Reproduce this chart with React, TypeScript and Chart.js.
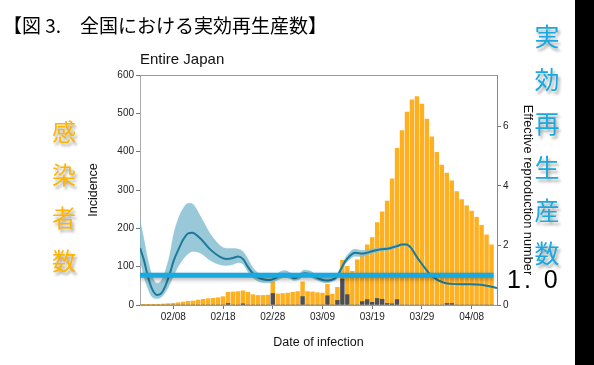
import React, { useEffect, useRef } from 'react';
import { Chart, registerables } from 'chart.js';

Chart.register(...registerables);

// Days counted from 2020-02-01 (day 0)
const totalCases = [0, 0.5, 0.5, 1, 1.7, 2.6, 3.5, 4.3, 6, 7.8, 9.6, 10.4, 13, 14.8, 16.5, 17.4, 19, 21.7, 33, 34, 35, 37, 33, 27, 25, 25, 26, 60, 29, 30, 31, 33, 35, 60, 35, 34, 32, 31, 54, 28, 46, 117, 101, 88, 118, 137, 157, 176, 215, 243, 271, 329, 409, 455, 503, 535, 544, 524, 485, 439, 398, 365, 344, 324, 296, 275, 259, 245, 229, 208, 183, 157];
const importedCases = [
  0, 0, 0, 0, 0, 0, 0, 0, 0, 0,
  0, 0, 0, 0, 0, 0, 0, 0, 4, 0,
  0, 3, 0, 0, 0, 0, 0, 30, 0, 0,
  0, 0, 0, 22, 0, 0, 0, 0, 24, 0,
  12, 68, 27, 0, 0, 9, 14, 7, 17, 15,
  4, 3, 14, 0, 0, 0, 0, 0, 0, 0,
  0, 0, 4, 4, 0, 0, 0, 0, 0, 0,
  0, 0,
];

const tickDays = [7, 17, 27, 37, 47, 57, 67];
const tickLabels = ['02/08', '02/18', '02/28', '03/09', '03/19', '03/29', '04/08'];

const rDays = [0.3, 1.1, 1.9, 2.7, 3.7, 4.5, 5.3, 6.3, 7.1, 8, 9, 10, 10.8, 12.4, 14.4, 16.4, 17.7, 19, 20, 21, 22, 23, 24, 25.2, 26.5, 27.5, 28.5, 29.5, 30.5, 31.3, 32.3, 33.3, 34.4, 35.5, 36.5, 37.7, 38.7, 39.9, 40.7, 41.5, 42.5, 43.5, 44.6, 45.8, 46.8, 47.8, 48.8, 50, 51, 52, 53, 53.9, 54.8, 55.8, 56.8, 57.8, 58.8, 59.8, 60.8, 61.8, 62.8, 64.8, 66.8, 68.9, 70.3, 72.1];
const rMean = [1.92, 1.5, 0.95, 0.55, 0.34, 0.38, 0.6, 1.06, 1.5, 1.85, 2.2, 2.41, 2.43, 2.24, 1.87, 1.62, 1.55, 1.58, 1.63, 1.55, 1.28, 1.06, 0.93, 0.86, 0.84, 0.9, 1.0, 1.03, 0.97, 0.9, 0.95, 1.07, 1.04, 0.95, 0.87, 0.82, 0.84, 0.95, 1.2, 1.45, 1.65, 1.76, 1.73, 1.75, 1.8, 1.84, 1.87, 1.89, 1.93, 1.98, 2.03, 2.03, 1.92, 1.66, 1.42, 1.2, 1.0, 0.88, 0.79, 0.73, 0.71, 0.7, 0.7, 0.68, 0.64, 0.57];
const rUpper = [2.86, 2.2, 1.5, 1.0, 0.73, 0.8, 1.1, 1.7, 2.4, 2.9, 3.25, 3.42, 3.4, 3.0, 2.4, 2.0, 1.9, 1.9, 1.88, 1.8, 1.55, 1.25, 1.08, 0.98, 0.95, 1.0, 1.12, 1.16, 1.08, 1.0, 1.05, 1.18, 1.15, 1.05, 0.96, 0.9, 0.9, 1.0, 1.28, 1.55, 1.77, 1.88, 1.84, 1.84, 1.88, 1.91, 1.93, 1.95, 1.98, 2.03, 2.07, 2.06, 1.95, 1.69, 1.44, 1.22, 1.02, 0.9, 0.8, 0.74, 0.72, 0.71, 0.71, 0.69, 0.65, 0.58];
const rLower = [1.5, 0.95, 0.55, 0.28, 0.22, 0.25, 0.4, 0.7, 1.0, 1.3, 1.55, 1.72, 1.8, 1.75, 1.5, 1.35, 1.33, 1.36, 1.42, 1.38, 1.12, 0.92, 0.8, 0.75, 0.75, 0.8, 0.88, 0.93, 0.88, 0.82, 0.86, 0.97, 0.95, 0.86, 0.79, 0.74, 0.77, 0.88, 1.12, 1.36, 1.54, 1.64, 1.63, 1.66, 1.72, 1.77, 1.81, 1.83, 1.88, 1.93, 1.99, 2.0, 1.89, 1.63, 1.4, 1.18, 0.98, 0.86, 0.78, 0.72, 0.7, 0.69, 0.69, 0.67, 0.63, 0.56];

const thresholdDays = [0.3, 71.4];
const thresholdValue = 1.0;

const FONT = "'Liberation Sans', Arial, sans-serif";
const CJK = "'Noto Sans CJK JP', 'Noto Sans CJK SC', sans-serif";

const leftChars = ['感', '染', '者', '数'];
const leftCharY = [131, 174, 217, 260];
const rightChars = ['実', '効', '再', '生', '産', '数'];
const rightCharY = [35, 78, 122, 166, 209, 252];

const framePlugin = {
  id: 'frameTop',
  afterDatasetsDraw(chart: any) {
    const { ctx, chartArea } = chart;
    ctx.save();
    ctx.strokeStyle = '#999';
    ctx.lineWidth = 1;
    ctx.beginPath();
    ctx.moveTo(chartArea.left, chartArea.top + 0.5);
    ctx.lineTo(chartArea.right, chartArea.top + 0.5);
    ctx.stroke();
    ctx.restore();
  },
};

const shadowPlugin = {
  id: 'lineShadow',
  beforeDatasetDraw(chart: any, args: any) {
    if (args.index === 0) {
      const ctx = chart.ctx;
      ctx.save();
      ctx.shadowColor = 'rgba(0,0,0,0.3)';
      ctx.shadowBlur = 4;
      ctx.shadowOffsetY = 2;
    }
  },
  afterDatasetDraw(chart: any, args: any) {
    if (args.index === 0) chart.ctx.restore();
  },
};

export default function App() {
  const ref = useRef<HTMLCanvasElement>(null);

  useEffect(() => {
    const canvas = ref.current;
    if (!canvas) return;
    const orangeData = totalCases.map((v, i) => ({ x: i, y: v - importedCases[i] }));
    const darkData = importedCases.map((v, i) => ({ x: i, y: v }));
    const meanData = rDays.map((d, i) => ({ x: d, y: rMean[i] }));
    const upperData = rDays.map((d, i) => ({ x: d, y: rUpper[i] }));
    const lowerData = rDays.map((d, i) => ({ x: d, y: rLower[i] }));
    const thresholdData = thresholdDays.map((d) => ({ x: d, y: thresholdValue }));

    const tickFont = { family: FONT, size: 10 };
    const chart = new Chart(canvas, {
      type: 'bar',
      data: {
        datasets: [
          {
            type: 'line',
            data: thresholdData,
            yAxisID: 'y1',
            borderColor: '#19a9e1',
            borderWidth: 5,
            pointRadius: 0,
            order: 0,
          } as any,
          {
            type: 'line',
            data: meanData,
            yAxisID: 'y1',
            borderColor: '#1c7a98',
            borderWidth: 2,
            pointRadius: 0,
            cubicInterpolationMode: 'monotone',
            order: 1,
          } as any,
          {
            type: 'line',
            data: upperData,
            yAxisID: 'y1',
            borderColor: 'rgba(120,185,205,0.6)',
            borderWidth: 0.5,
            backgroundColor: 'rgba(135,192,210,0.85)',
            pointRadius: 0,
            fill: '+1',
            cubicInterpolationMode: 'monotone',
            order: 2,
          } as any,
          {
            type: 'line',
            data: lowerData,
            yAxisID: 'y1',
            borderColor: 'rgba(120,185,205,0.6)',
            borderWidth: 0.5,
            pointRadius: 0,
            fill: false,
            cubicInterpolationMode: 'monotone',
            order: 3,
          } as any,
          {
            type: 'bar',
            data: darkData,
            yAxisID: 'y',
            backgroundColor: '#4f4f4f',
            barThickness: 3.8,
            order: 4,
          } as any,
          {
            type: 'bar',
            data: orangeData,
            yAxisID: 'y',
            backgroundColor: '#ffb020',
            barThickness: 3.8,
            order: 5,
          } as any,
        ],
      },
      options: {
        responsive: false,
        animation: false,
        devicePixelRatio: 1,
        layout: { padding: { left: 85, right: 59, top: 75, bottom: 15 } },
        plugins: { legend: { display: false }, tooltip: { enabled: false }, title: { display: false } },
        scales: {
          x: {
            type: 'linear',
            min: 0.3,
            max: 72.1,
            offset: false,
            stacked: true,
            grid: { display: true, drawOnChartArea: false, drawTicks: true, tickLength: 4, color: '#777', offset: false },
            border: { display: true, color: '#999' },
            afterBuildTicks: (s: any) => {
              s.ticks = tickDays.map((v) => ({ value: v }));
            },
            afterFit: (s: any) => {
              s.height = 45;
            },
            ticks: {
              autoSkip: false,
              maxRotation: 0,
              padding: 2,
              color: '#222',
              font: tickFont,
              callback: (v: any) => {
                const k = tickDays.indexOf(Number(v));
                return k >= 0 ? tickLabels[k] : '';
              },
            },
            title: {
              display: true,
              text: 'Date of infection',
              color: '#111',
              font: { family: FONT, size: 12.5 },
              padding: { top: 0, bottom: 0 },
            },
          },
          y: {
            type: 'linear',
            position: 'left',
            min: 0,
            max: 600,
            stacked: true,
            grid: { display: true, drawOnChartArea: false, drawTicks: true, tickLength: 4, color: '#777' },
            border: { display: true, color: '#aaa' },
            afterFit: (s: any) => {
              s.width = 55;
            },
            ticks: { stepSize: 100, padding: 2, color: '#222', font: tickFont },
            title: {
              display: true,
              text: 'Incidence',
              color: '#111',
              font: { family: FONT, size: 12.5 },
              padding: { top: 1.5, bottom: 0 },
            },
          },
          y1: {
            type: 'linear',
            position: 'right',
            min: 0,
            max: 7.73,
            grid: { display: true, drawOnChartArea: false, drawTicks: true, tickLength: 4, color: '#777' },
            border: { display: true, color: '#888' },
            afterFit: (s: any) => {
              s.width = 38;
            },
            ticks: { stepSize: 2, includeBounds: false, padding: 2, color: '#222', font: tickFont },
            title: {
              display: true,
              text: 'Effective reproduction number',
              color: '#111',
              font: { family: FONT, size: 12.8 },
              padding: { top: 0, bottom: 0 },
            },
          },
        },
      } as any,
      plugins: [framePlugin, shadowPlugin],
    });
    return () => chart.destroy();
  }, []);

  const shadow = '2px 3px 3px rgba(0,0,0,0.35)';

  return (
    <div style={{ position: 'absolute', left: 0, top: 0, width: 594, height: 365, background: '#fff', overflow: 'hidden' }}>
      <canvas ref={ref} width={594} height={365} style={{ position: 'absolute', left: 0, top: 0, width: 594, height: 365 }} />
      <div style={{ position: 'absolute', left: 3, top: 15, fontFamily: CJK, fontSize: 19, lineHeight: '20px', color: '#000', whiteSpace: 'pre' }}>
        {'【図 3.　全国における実効再生産数】'}
      </div>
      <div style={{ position: 'absolute', left: 140, top: 50, fontFamily: FONT, fontSize: 15, lineHeight: '18px', color: '#111', whiteSpace: 'pre' }}>
        Entire Japan
      </div>
      {leftChars.map((c, i) => (
        <div key={'l' + i} style={{ position: 'absolute', left: 64 - 12, top: leftCharY[i] - 12, width: 24, height: 24, lineHeight: '24px', textAlign: 'center', fontFamily: CJK, fontSize: 24, color: '#ffb400', textShadow: shadow }}>
          {c}
        </div>
      ))}
      {rightChars.map((c, i) => (
        <div key={'r' + i} style={{ position: 'absolute', left: 547 - 12.5, top: rightCharY[i] - 12.5, width: 25, height: 25, lineHeight: '25px', textAlign: 'center', fontFamily: CJK, fontSize: 25, color: '#1aa8e0', textShadow: shadow }}>
          {c}
        </div>
      ))}
      <div style={{ position: 'absolute', left: 507, top: 266, fontFamily: FONT, fontSize: 25, lineHeight: '26px', letterSpacing: 3, color: '#000', whiteSpace: 'pre' }}>
        1. 0
      </div>
      <div style={{ position: 'absolute', left: 575, top: 0, width: 19, height: 365, background: '#000' }} />
    </div>
  );
}
